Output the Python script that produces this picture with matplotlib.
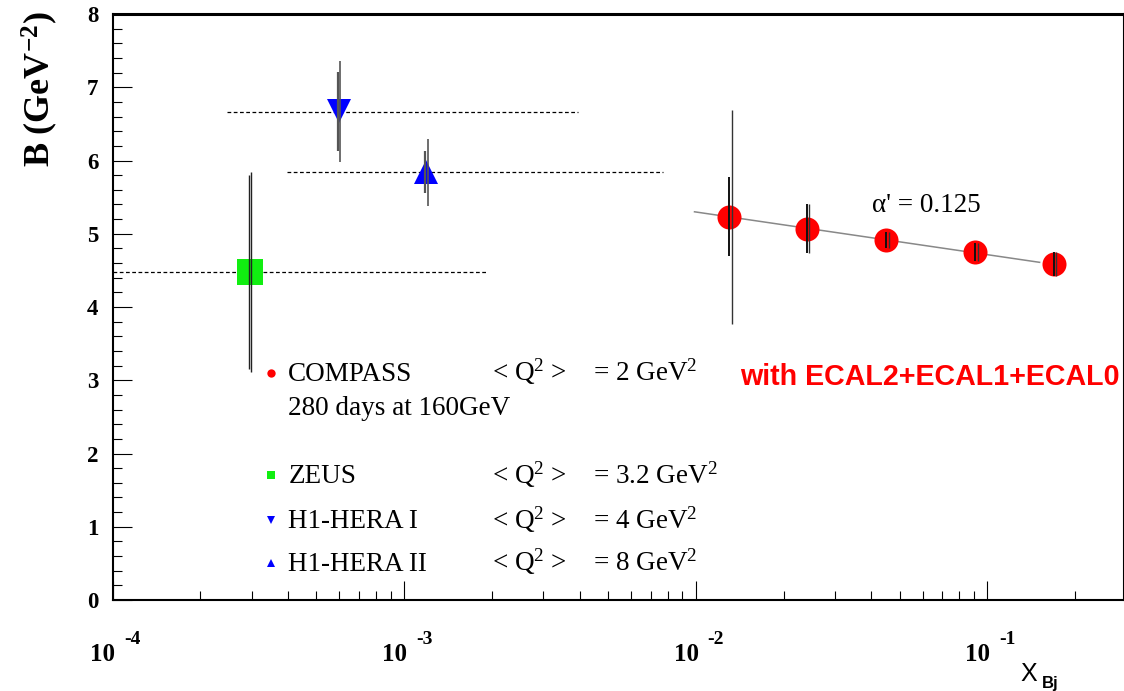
import numpy as np
import matplotlib
matplotlib.use('Agg')
import matplotlib.pyplot as plt
from matplotlib.ticker import MultipleLocator, LogLocator, NullFormatter, FixedLocator

plt.rcParams['mathtext.fontset'] = 'custom'
plt.rcParams['mathtext.rm'] = 'Liberation Serif'
plt.rcParams['mathtext.bf'] = 'Liberation Serif:bold'
plt.rcParams['mathtext.it'] = 'Liberation Serif:italic'
SERIF = 'Liberation Serif'
SANS = 'Liberation Sans'

# ---- data ----
compass_x = [0.013, 0.024, 0.045, 0.091, 0.169]
compass_B = [5.23, 5.07, 4.92, 4.75, 4.59]
compass_err_stat = [0.54, 0.33, 0.11, 0.12, 0.16]
compass_err_tot = [1.46, 0.33, 0.11, 0.12, 0.16]

zeus_x = [2.95e-4]
zeus_B = [4.48]
zeus_err_a = [1.32]
zeus_err_b = [1.37]
zeus_band = [1e-4, 1.94e-3]

h1a_x = [6.0e-4]
h1a_B = [6.67]
h1a_err_in = [0.54]
h1a_err_out = [0.69]
h1a_band = [2.46e-4, 3.95e-3]
h1a_band_B = 6.66

h1b_x = [1.19e-3]
h1b_B = [5.84]
h1b_err_in = [0.29]
h1b_err_out = [0.46]
h1b_band = [3.95e-4, 7.7e-3]

fit_x = [0.0099, 0.151]
fit_B = [5.30, 4.61]

x_decades = [-4, -3, -2, -1]
y_ticks = [0, 1, 2, 3, 4, 5, 6, 7, 8]

legend_rows = [
    ('COMPASS', 'o', '#ff0000', '= 2 GeV$^{2}$'),
    ('ZEUS', 's', '#11ee11', '= 3.2 GeV$^{2}$'),
    ('H1-HERA I', 'v', '#0000ff', '= 4 GeV$^{2}$'),
    ('H1-HERA II', '^', '#0000ff', '= 8 GeV$^{2}$'),
]

# ---- figure ----
fig = plt.figure(figsize=(11.24, 6.91), dpi=100)
ax = fig.add_axes([0.1001, 0.1317, 0.8999, 0.848])
ax.set_xscale('log')
ax.set_xlim(1e-4, 0.294)
ax.set_ylim(0, 8)

# a pixel shift in log space for the doubled error bars
px = 10 ** (1.0 / 291.7)

# dashed x-range lines
ls_dash = (0, (3, 2))
ax.plot(zeus_band, [zeus_B[0]] * 2, color='black', lw=0.9, ls=ls_dash, zorder=2)
ax.plot(h1a_band, [h1a_band_B] * 2, color='black', lw=0.9, ls=ls_dash, zorder=2)
ax.plot(h1b_band, [h1b_B[0]] * 2, color='black', lw=0.9, ls=ls_dash, zorder=2)

# Regge fit line
ax.plot(fit_x, fit_B, color='#888888', lw=1.1, zorder=2)

# markers
ax.plot(zeus_x, zeus_B, 's', color='#11ee11', ms=18.4, mew=0, zorder=3)
ax.plot(h1a_x, h1a_B, 'v', color='#0000ff', ms=17.3, mew=0, zorder=3)
ax.plot(h1b_x, h1b_B, '^', color='#0000ff', ms=17.3, mew=0, zorder=3)
ax.plot(compass_x, compass_B, 'o', color='#ff0000', ms=17.3, mew=0, zorder=3)

# error bars, drawn on top of the markers
eb = dict(fmt='none', capsize=0, zorder=4)
ax.errorbar(np.array(zeus_x) / px, zeus_B, yerr=zeus_err_a, ecolor='#222222', elinewidth=1.0, **eb)
ax.errorbar(np.array(zeus_x) * px, zeus_B, yerr=zeus_err_b, ecolor='#222222', elinewidth=1.0, **eb)
ax.errorbar(np.array(h1a_x) / px, h1a_B, yerr=h1a_err_in, ecolor='#555555', elinewidth=1.6, **eb)
ax.errorbar(np.array(h1a_x) * px, h1a_B, yerr=h1a_err_out, ecolor='#555555', elinewidth=1.2, **eb)
ax.errorbar(np.array(h1b_x) / px, h1b_B, yerr=h1b_err_in, ecolor='#555555', elinewidth=1.6, **eb)
ax.errorbar(np.array(h1b_x) * px ** 2, h1b_B, yerr=h1b_err_out, ecolor='#555555', elinewidth=1.2, **eb)
ax.errorbar(compass_x, compass_B, yerr=compass_err_stat, ecolor='#111111', elinewidth=1.4, **eb)
ax.errorbar(np.array(compass_x) * px ** 2.5, compass_B, yerr=compass_err_tot, ecolor='#333333', elinewidth=1.0, **eb)

# axes frame and ticks (ROOT look)
for s in ax.spines.values():
    s.set_linewidth(1.5)
ax.spines['top'].set_linewidth(2.2)
ax.xaxis.set_major_locator(FixedLocator([10.0 ** e for e in x_decades]))
ax.xaxis.set_minor_locator(LogLocator(base=10, subs=np.arange(2, 10)))
ax.xaxis.set_major_formatter(NullFormatter())
ax.xaxis.set_minor_formatter(NullFormatter())
ax.set_yticks(y_ticks)
ax.yaxis.set_minor_locator(MultipleLocator(0.2))
ax.tick_params(which='both', direction='in', top=False, right=False, color='black', width=0.8)
ax.tick_params(which='major', length=13.5)
ax.tick_params(which='minor', length=6.5)
ax.tick_params(axis='y', which='major', pad=10, labelsize=16.5)
for lbl in ax.get_yticklabels():
    lbl.set_fontfamily(SERIF)
    lbl.set_fontweight('bold')

# x tick labels in ROOT style: "10" with a raised exponent
for e in x_decades:
    ax.annotate('10', xy=(10.0 ** e, 0), xycoords=('data', 'axes fraction'),
                xytext=(2, -44), textcoords='offset points', ha='right', va='baseline',
                fontsize=18, fontweight='bold', family=SERIF, annotation_clip=False)
    ax.annotate(str(e), xy=(10.0 ** e, 0), xycoords=('data', 'axes fraction'),
                xytext=(8.5, -32), textcoords='offset points', ha='left', va='baseline',
                fontsize=14, fontweight='bold', family=SERIF, annotation_clip=False)

# axis titles
ax.set_ylabel(r'$\mathbf{B\ (GeV^{-2})}$', fontsize=26, va='center')
ax.yaxis.set_label_coords(-0.0717, 0.872)
ax.text(0.898, -0.1385, 'X', transform=ax.transAxes, fontsize=18, family=SANS,
        ha='left', va='baseline')
ax.text(0.9185, -0.150, 'Bj', transform=ax.transAxes, fontsize=12, family=SANS,
        fontweight='bold', ha='left', va='baseline')

# slope annotation
ax.text(0.7505, 0.6616, "\u03b1' = 0.125", transform=ax.transAxes, fontsize=19.5,
        family=SERIF, ha='left', va='baseline')

# hand-made legend
row_y = [0.3742, 0.1991, 0.1224, 0.0495]
for (name, mk, col, q2), y in zip(legend_rows, row_y):
    ax.plot([0.1564], [y + 0.0135], mk, color=col, ms=6, mew=0, transform=ax.transAxes, clip_on=False)
    ax.text(0.1738, y, name, transform=ax.transAxes, fontsize=19.5, family=SERIF, va='baseline')
    ax.text(0.3749, y, r'< Q$^{2}$ >', transform=ax.transAxes, fontsize=19.5, family=SERIF, va='baseline')
    ax.text(0.4753, y, q2, transform=ax.transAxes, fontsize=19.5, family=SERIF, va='baseline')
ax.text(0.1738, 0.3157, '280 days at 160GeV', transform=ax.transAxes, fontsize=19.5,
        family=SERIF, va='baseline')

ax.text(0.6204, 0.3669, 'with ECAL2+ECAL1+ECAL0', transform=ax.transAxes, fontsize=20.6,
        family=SANS, fontweight='bold', color='#ff0000', va='baseline')

fig.savefig('out.png', dpi=100)
